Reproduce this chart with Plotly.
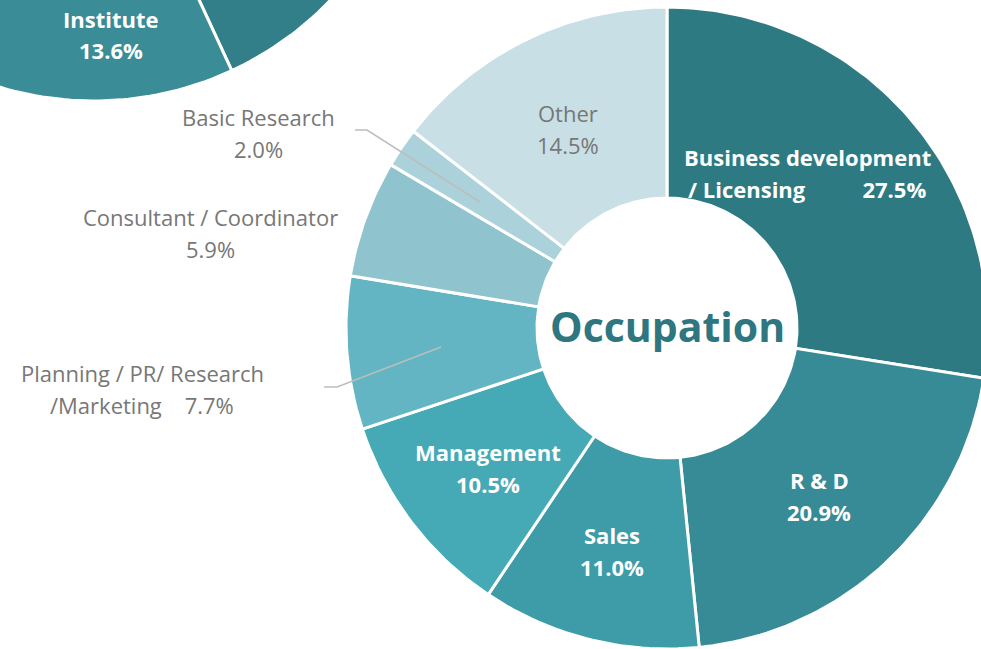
import numpy as np
import plotly.graph_objects as go

# main donut: occupation shares (clockwise from 12 o'clock)
occupations = ["Business development / Licensing", "R & D", "Sales", "Management",
               "Planning / PR/ Research /Marketing", "Consultant / Coordinator",
               "Basic Research", "Other"]
occ_share = [27.5, 20.9, 11.0, 10.5, 7.7, 5.9, 2.0, 14.5]
occ_colors = ["#2e7a83", "#368b96", "#3e9ba8", "#46aab6", "#63b5c3",
              "#8fc3ce", "#abd2db", "#c8dfe5"]

# neighbouring donut (only partly visible, top-left)
affiliations = ["Company", "Institute", "University", "Other"]
aff_share = [43.1, 13.6, 30.0, 13.3]
aff_colors = ["#327f89", "#3a8c96", "#56a9b5", "#a9d1da"]

NB = "\u00a0"

# label text (line1, line2) and placement (px)
occ_label_lines = [
    ("Business development", "/ Licensing" + NB * 10 + "{p}"),
    ("R & D", "{p}"),
    ("Sales", "{p}"),
    ("Management", "{p}"),
    ("Planning / PR/ Research", "/Marketing" + NB * 4 + "{p}"),
    ("Consultant / Coordinator", "{p}"),
    ("Basic Research", "{p}"),
    ("Other", "{p}"),
]
occ_label_pos = [(807, 157), (819, 480), (612, 535), (488, 452),
                 (142, 373), (210, 217), (258, 117), (568, 113)]
occ_label_style = ["in", "in", "in", "in", "out", "out", "out", "soft"]


def ring(values, cx, cy, r_out, r_in, n=300):
    tot = float(sum(values))
    edges = np.concatenate([[0], np.cumsum(values)]) / tot * 2 * np.pi
    out = []
    for a0, a1 in zip(edges[:-1], edges[1:]):
        t = np.linspace(a0, a1, max(int(n * (a1 - a0) / (2 * np.pi)), 4))
        xs = np.concatenate([cx + r_out * np.sin(t), cx + r_in * np.sin(t[::-1])])
        ys = np.concatenate([cy - r_out * np.cos(t), cy - r_in * np.cos(t[::-1])])
        out.append((np.append(xs, xs[0]), np.append(ys, ys[0])))
    return out


fig = go.Figure()

for (xs, ys), name, col, v in zip(ring(aff_share, 94, -227, 328, 134),
                                  affiliations, aff_colors, aff_share):
    fig.add_trace(go.Scatter(x=xs, y=ys, mode="lines", fill="toself",
                             fillcolor=col, line=dict(color="white", width=3),
                             name=name, hoverinfo="text", text=f"{name} {v:.1f}%"))

for (xs, ys), name, col, v in zip(ring(occ_share, 667, 328, 321, 130),
                                  occupations, occ_colors, occ_share):
    fig.add_trace(go.Scatter(x=xs, y=ys, mode="lines", fill="toself",
                             fillcolor=col, line=dict(color="white", width=3),
                             name=name, hoverinfo="text", text=f"{name} {v:.1f}%"))

font_main = "Open Sans, Noto Sans, sans-serif"
ann = []
for (l1, l2), v, (x, y), st in zip(occ_label_lines, occ_share, occ_label_pos, occ_label_style):
    p = f"{v:.1f}%"
    if st == "in":
        txt = [f"<b>{l1}</b>", "<b>" + l2.format(p=p) + "</b>"]
        col = "white"
    else:
        txt = [l1, l2.format(p=p)]
        col = "#777777"
    for i, t in enumerate(txt):
        ann.append(dict(x=x, y=y + 32 * i, text=t, showarrow=False,
                        xanchor="center", yanchor="middle",
                        font=dict(family=font_main, size=22, color=col)))

# label of the neighbouring donut
inst = affiliations.index("Institute")
for i, t in enumerate([f"<b>{affiliations[inst]}</b>", f"<b>{aff_share[inst]:.1f}%</b>"]):
    ann.append(dict(x=111, y=19 + 31 * i, text=t, showarrow=False,
                    xanchor="center", yanchor="middle",
                    font=dict(family=font_main, size=22, color="white")))

ann.append(dict(x=667, y=326, text="<b>Occupation</b>", showarrow=False,
                xanchor="center", yanchor="middle",
                font=dict(family=font_main, size=41, color="#2e7680")))

shapes = [
    dict(type="path", path="M 441 347 L 337 387 L 324 387",
         line=dict(color="#bdbdbd", width=1.5), xref="x", yref="y"),
    dict(type="path", path="M 355 130 L 367 130 L 480 202",
         line=dict(color="#bdbdbd", width=1.5), xref="x", yref="y"),
]

fig.update_layout(
    width=981, height=649,
    margin=dict(l=0, r=0, t=0, b=0),
    paper_bgcolor="white", plot_bgcolor="white",
    showlegend=False,
    xaxis=dict(range=[0, 981], visible=False, fixedrange=True),
    yaxis=dict(range=[649, 0], visible=False, fixedrange=True),
    annotations=ann, shapes=shapes,
)

fig.write_html("out.html", config={"displayModeBar": False},
               post_script="document.body.style.margin='0';")
